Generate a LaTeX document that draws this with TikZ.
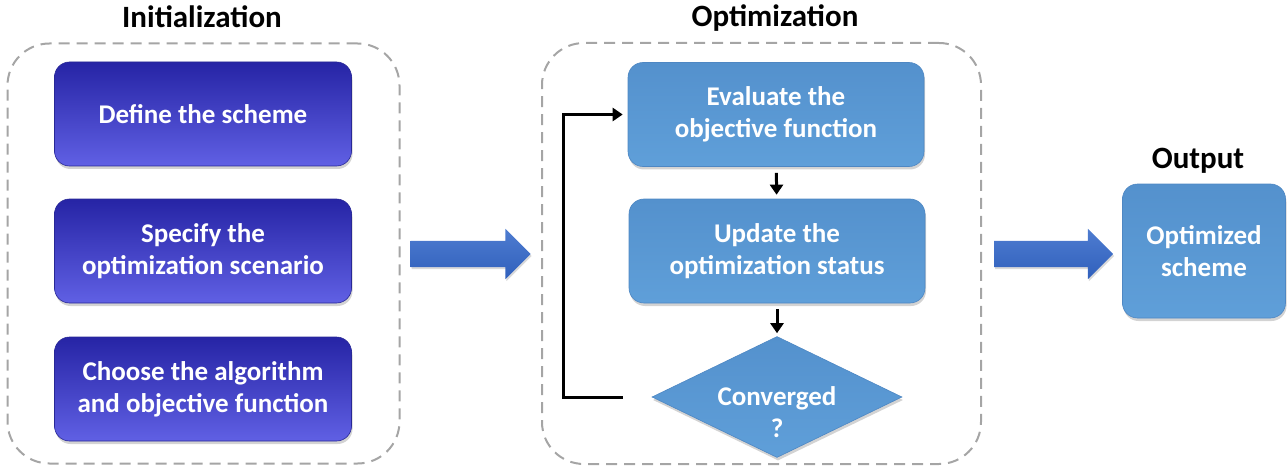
\documentclass[tikz,border=0pt]{standalone}
\usepackage{fontspec}
\setmainfont{Carlito}
\usetikzlibrary{shapes.geometric,shapes.arrows,arrows.meta,shadows}
\definecolor{initTop}{RGB}{38,36,165}
\definecolor{initBot}{RGB}{96,96,228}
\definecolor{initEdge}{RGB}{40,40,150}
\definecolor{optTop}{RGB}{84,145,205}
\definecolor{optBot}{RGB}{95,159,217}
\definecolor{optEdge}{RGB}{78,135,195}
\definecolor{arrTop}{RGB}{78,124,208}
\definecolor{arrBot}{RGB}{48,96,188}
\definecolor{frameGray}{RGB}{165,165,165}
\tikzset{
  boxtext/.style={text=white,font=\fontsize{27}{32}\selectfont\bfseries,align=center},
  initbox/.style={boxtext,rectangle,rounded corners=15pt,top color=initTop,bottom color=initBot,
     draw=initEdge,line width=0.6pt,minimum width=297pt,minimum height=104pt,inner sep=0pt,
     drop shadow={shadow xshift=1pt,shadow yshift=-3pt,opacity=0.35}},
  optbox/.style={boxtext,rectangle,rounded corners=15pt,top color=optTop,bottom color=optBot,
     draw=optEdge,line width=0.6pt,minimum width=296pt,minimum height=104pt,inner sep=0pt,
     drop shadow={shadow xshift=1pt,shadow yshift=-3pt,opacity=0.35}},
  frame/.style={draw=frameGray,line width=2pt,dash pattern=on 11pt off 7pt,rounded corners=42pt},
  title/.style={font=\fontsize{31}{36}\selectfont\bfseries,anchor=base},
  bigarrow/.style={single arrow,single arrow head extend=12pt,text height=13pt,text depth=13pt,
     inner sep=0pt,top color=arrTop,bottom color=arrBot,draw=none,
     drop shadow={shadow xshift=1pt,shadow yshift=-2pt,opacity=0.3}},
  flow/.style={line width=3pt,-{Triangle[length=10pt,width=13pt]}}
}

\begin{document}
\begin{tikzpicture}[x=1pt,y=-1pt]
\useasboundingbox (0,0) rectangle (1288,468);
%
       \node [frame,minimum width=392pt,minimum height=420pt] at (203.5,253.5) (init frame) {};
       \node [frame,minimum width=439pt,minimum height=421pt] at (761.5,253.5) (opt frame) {};
%
       \node [title] at (202,28) (init title) {Initialization};
       \node [title] at (775,27) (opt title) {Optimization};
       \node [title] at (1198,168) (out title) {Output};
%
          \node [initbox] at (203,114) (scheme) {Define the scheme};
          \node [initbox] at (203,251) (scenario) {Specify the\\optimization scenario};
          \node [initbox] at (203,389) (algo) {Choose the algorithm\\and objective function};
%
             \node [optbox] at (776,114.5) (eval) {Evaluate the\\objective function};
             \node [optbox] at (777,251) (update) {Update the\\optimization status};
             \node [diamond,aspect=2.07,minimum width=250pt,minimum height=121pt,inner sep=0pt,
                    top color=optTop,bottom color=optBot,draw=optEdge,line width=0.6pt,
                    drop shadow={shadow xshift=1pt,shadow yshift=-3pt,opacity=0.35},
                    label={[boxtext,yshift=-15pt]center:Converged\\?}] at (777,397) (conv) {};
%
                \node [optbox,minimum width=163pt,minimum height=134pt] at (1204,251) (out) {Optimized\\scheme};
%
       \node [bigarrow,minimum height=120pt] at (464,254) (init arrow) {};
       \node [bigarrow,minimum height=119pt] at (1047,254) (out arrow) {};
%
%
\draw[flow,shorten <=6pt,shorten >=4pt] (eval) -- (update);
\draw[flow,shorten <=6pt,shorten >=3pt] (update) -- (conv);
\draw[flow,shorten >=5pt] ([xshift=-29pt]conv.west) -- ++(-59,0) |- (eval.west);

\end{tikzpicture}
\end{document}
